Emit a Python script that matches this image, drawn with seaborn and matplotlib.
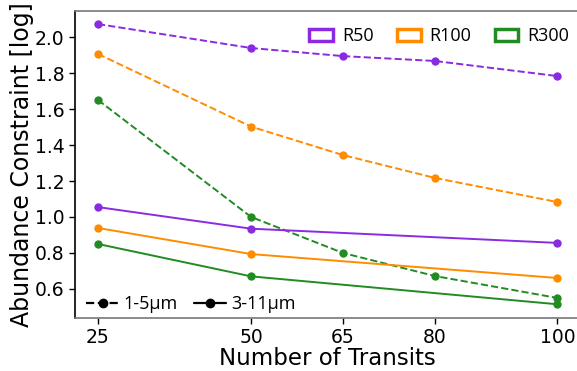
import matplotlib
matplotlib.use("Agg")
import matplotlib.pyplot as plt
import seaborn as sns
import pandas as pd
from matplotlib.patches import Patch
from matplotlib.lines import Line2D

transits_dashed = [25, 50, 65, 80, 100]
transits_solid = [25, 50, 100]

r50_dashed = [2.072, 1.939, 1.894, 1.867, 1.783]
r100_dashed = [1.906, 1.502, 1.344, 1.217, 1.083]
r300_dashed = [1.650, 1.000, 0.800, 0.672, 0.550]

r50_solid = [1.055, 0.935, 0.856]
r100_solid = [0.939, 0.794, 0.661]
r300_solid = [0.850, 0.670, 0.515]

resolutions = ["R50", "R100", "R300"]
colors = ["#8A2BE2", "#FF8C00", "#228B22"]
wave_labels = ["1-5μm", "3-11μm"]
xticks = [25, 50, 65, 80, 100]
yticks = [0.6, 0.8, 1.0, 1.2, 1.4, 1.6, 1.8, 2.0]

sns.set_style("ticks")
plt.rcParams['font.family'] = ['DejaVu Sans']
plt.rcParams['text.color'] = 'black'
plt.rcParams['axes.labelcolor'] = 'black'
plt.rcParams['xtick.color'] = 'black'
plt.rcParams['ytick.color'] = 'black'

fig = plt.figure(figsize=(5.77, 3.71), dpi=100)
ax = fig.add_axes([0.130, 0.143, 0.876, 0.827])

dashed = [r50_dashed, r100_dashed, r300_dashed]
solid = [r50_solid, r100_solid, r300_solid]
for vals, c in zip(dashed, colors):
    df = pd.DataFrame({"x": transits_dashed, "y": vals})
    sns.lineplot(data=df, x="x", y="y", ax=ax, color=c, linestyle="--",
                 marker="o", markersize=6, markeredgewidth=0, linewidth=1.4)
for vals, c in zip(solid, colors):
    df = pd.DataFrame({"x": transits_solid, "y": vals})
    sns.lineplot(data=df, x="x", y="y", ax=ax, color=c, linestyle="-",
                 marker="o", markersize=6, markeredgewidth=0, linewidth=1.4)

ax.set_xlim(21.25, 103.75)
ax.set_ylim(0.439, 2.144)
ax.set_xticks(xticks)
ax.set_xticklabels([str(t) for t in xticks])
ax.set_yticks(yticks)
ax.set_yticklabels([f"{t:.1f}" for t in yticks])
ax.tick_params(axis="both", labelsize=13.5, length=4, width=1)
ax.set_xlabel("Number of Transits", fontsize=16.5, labelpad=0)
ax.set_ylabel("Abundance Constraint [log]", fontsize=17, labelpad=0.5)

ax.spines["right"].set_visible(False)
ax.spines["top"].set_color("#777777")
ax.spines["bottom"].set_color("#777777")
ax.spines["left"].set_color("black")
for s in ax.spines.values():
    s.set_linewidth(1.2)

handles = [Patch(facecolor="white", edgecolor=c, linewidth=2.5, label=r)
           for r, c in zip(resolutions, colors)]
leg1 = ax.legend(handles=handles, loc="upper right", ncol=3, frameon=False,
                 prop={"family": "Open Sans", "size": 13},
                 handlelength=1.3, handleheight=0.6, columnspacing=1.3,
                 handletextpad=0.5, bbox_to_anchor=(1.01, 1.0))
ax.add_artist(leg1)

lhandles = [Line2D([], [], color="black", linestyle="--", marker="o", markersize=6, linewidth=1.6),
            Line2D([], [], color="black", linestyle="-", marker="o", markersize=6, linewidth=1.6)]
ax.legend(handles=lhandles, labels=wave_labels, loc="lower left", ncol=2, frameon=False,
          prop={"family": "Open Sans", "size": 13}, handlelength=1.8,
          handletextpad=0.25, columnspacing=0.9, borderaxespad=0.0,
          bbox_to_anchor=(0.008, -0.008))

fig.savefig("out.png", dpi=100)
